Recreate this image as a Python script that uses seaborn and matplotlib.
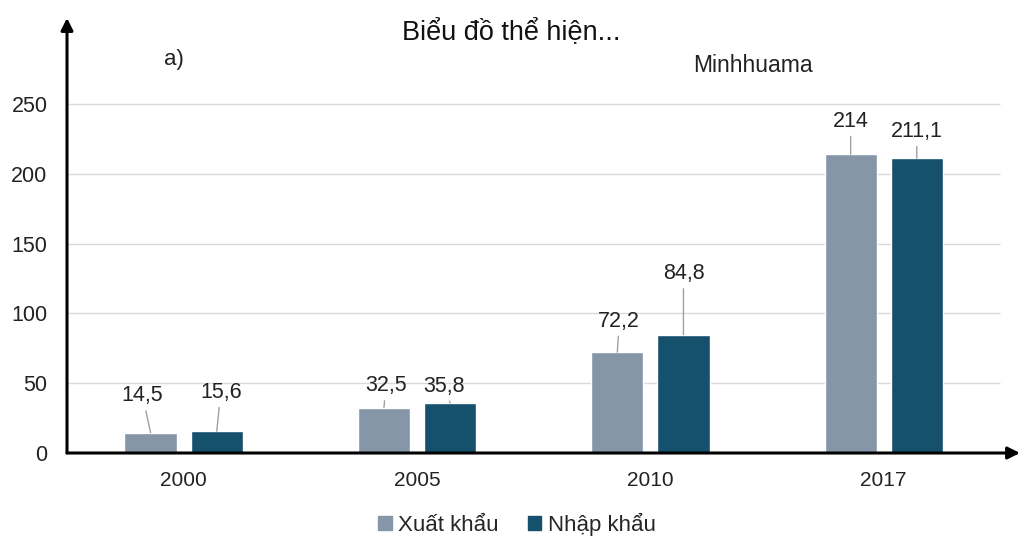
import matplotlib
matplotlib.use('Agg')
import matplotlib.pyplot as plt
import seaborn as sns
import pandas as pd

# data
years = ['2000', '2005', '2010', '2017']
xuat_khau = [14.5, 32.5, 72.2, 214]
nhap_khau = [15.6, 35.8, 84.8, 211.1]
series_names = ['Xuất khẩu', 'Nhập khẩu']
y_ticks = [0, 50, 100, 150, 200, 250]

colors = ['#8496a8', '#15506d']

# label offsets in pixels (dx, dy) for each bar, per series
offsets = [
    [(-8, 37), (2, 22), (2, 31), (0, 33)],
    [(4, 39), (-6, 17), (0, 61), (0, 27)],
]

sns.set_style('white')
plt.rcParams['font.family'] = ['Liberation Sans', 'DejaVu Sans']

df = pd.DataFrame({
    'year': years * 2,
    'value': xuat_khau + nhap_khau,
    'series': [series_names[0]] * len(years) + [series_names[1]] * len(years),
})

fig = plt.figure(figsize=(10.24, 5.55), dpi=100)
ax = fig.add_axes([67 / 1024, 102 / 555, (1020 - 67) / 1024, (453 - 18) / 555])

sns.barplot(data=df, x='year', y='value', hue='series', palette=colors,
            width=0.567, gap=0.21, saturation=1, ax=ax, legend=False)

ax.set_xlim(-0.5, 3.584)
ax.set_ylim(0, 311.6)
ax.set_yticks(y_ticks)
ax.hlines(y_ticks[1:], -0.5, 3.5, color='#d9d9d9', lw=1, zorder=0)
ax.set_xlabel('')
ax.set_ylabel('')
ax.tick_params(axis='x', length=0, pad=13, labelsize=15, colors='#222222')
ax.tick_params(axis='y', length=0, pad=14, labelsize=15.5, colors='#222222')
for s in ax.spines.values():
    s.set_visible(False)

# axis arrows
ax.annotate('', xy=(0, 1), xytext=(0, 0), xycoords='axes fraction',
            arrowprops=dict(arrowstyle='-|>', color='black', lw=2.2,
                            mutation_scale=18, shrinkA=0, shrinkB=0))
ax.annotate('', xy=(1, 0), xytext=(0, 0), xycoords='axes fraction',
            arrowprops=dict(arrowstyle='-|>', color='black', lw=2.2,
                            mutation_scale=18, shrinkA=0, shrinkB=0))

# data labels with leader lines
for i, cont in enumerate(ax.containers):
    for j, bar in enumerate(cont):
        val = bar.get_height()
        txt = f'{val:g}'.replace('.', ',')
        x = bar.get_x() + bar.get_width() / 2
        dx, dy = offsets[i][j]
        ax.annotate(txt, xy=(x, val), xytext=(dx, dy), textcoords='offset pixels',
                    ha='center', va='center', fontsize=15.5, color='#222222',
                    arrowprops=dict(arrowstyle='-', color='#a0a0a0', lw=1,
                                    shrinkA=1, shrinkB=0))

fig.text(511 / 1024, 1 - 32 / 555, 'Biểu đồ thể hiện...', ha='center', va='center',
         fontsize=19.5, color='#111111')
fig.text(174 / 1024, 1 - 60 / 555, 'a)', ha='center', va='center',
         fontsize=16, color='#222222')
fig.text(753 / 1024, 1 - 66 / 555, 'Minhhuama', ha='center', va='center',
         fontsize=16.5, color='#222222')

handles = [plt.Rectangle((0, 0), 1, 1, color=c) for c in colors]
fig.legend(handles, series_names, loc='center', bbox_to_anchor=(517 / 1024, 1 - 524 / 555),
           ncol=2, frameon=False, fontsize=16, handlelength=0.6, handleheight=0.6,
           handletextpad=0.3, columnspacing=1.3)

fig.savefig('out.png', dpi=100)
